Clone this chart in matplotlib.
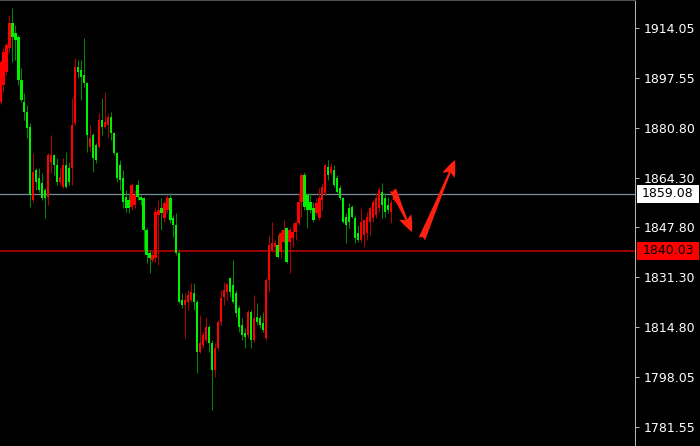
import matplotlib
matplotlib.use("Agg")
import matplotlib.pyplot as plt
from matplotlib.patches import Rectangle
import numpy as np

# ---- data (prices) ----
opens = [
    1889.5, 1895.1, 1899.4, 1907.4, 1915.7, 1912.4, 1911.1, 1896.8, 1889.5, 1886.2,
    1881.2, 1856.9, 1866.9, 1864.2, 1862.6, 1860.3, 1857.9, 1869.6, 1871.9, 1868.6,
    1862.9, 1861.3, 1868.6, 1867.6, 1867.6, 1882.5, 1901.1, 1900.1, 1898.4, 1895.8,
    1874.5, 1878.5, 1875.2, 1874.5, 1883.5, 1881.2, 1881.8, 1884.5, 1879.2, 1872.5,
    1868.6, 1864.2, 1857.9, 1856.9, 1854.6, 1855.3, 1861.9, 1857.9, 1857.6, 1847.0,
    1839.3, 1837.0, 1837.7, 1852.0, 1854.3, 1851.0, 1853.6, 1857.6, 1851.0, 1848.6,
    1839.3, 1823.7, 1822.1, 1823.1, 1823.7, 1826.0, 1823.1, 1806.5, 1808.8, 1810.4,
    1814.8, 1809.4, 1800.5, 1807.8, 1816.4, 1824.7, 1826.4, 1831.0, 1828.7, 1826.0,
    1821.1, 1815.4, 1812.8, 1812.1, 1819.7, 1810.4, 1818.1, 1817.7, 1816.1, 1811.1,
    1830.4, 1840.3, 1841.3, 1842.0, 1839.7, 1843.0, 1847.6, 1843.0, 1844.3, 1846.3,
    1849.3, 1856.3, 1865.2, 1858.6, 1856.3, 1854.3, 1852.6, 1851.0, 1856.9, 1859.3,
    1867.9, 1865.9, 1866.9, 1864.2, 1860.9, 1857.6, 1851.3, 1854.3, 1854.6, 1851.0,
    1846.0, 1843.7, 1845.3, 1846.0, 1849.6, 1851.0, 1852.0, 1854.3, 1859.6, 1857.6,
    1855.3, 1852.9, 1856.9,
]
highs = [
    1903.4, 1907.4, 1909.1, 1918.4, 1920.7, 1915.1, 1911.7, 1900.8, 1892.5, 1888.5,
    1882.5, 1872.5, 1867.6, 1867.6, 1865.9, 1860.9, 1872.5, 1878.5, 1872.2, 1870.9,
    1867.6, 1870.9, 1872.9, 1869.6, 1890.8, 1904.1, 1903.4, 1903.4, 1910.7, 1896.1,
    1881.8, 1879.2, 1875.9, 1885.8, 1890.8, 1892.8, 1885.8, 1886.2, 1879.5, 1872.9,
    1870.2, 1866.9, 1860.3, 1858.6, 1862.6, 1860.3, 1863.6, 1858.6, 1857.9, 1847.6,
    1840.3, 1840.3, 1854.6, 1856.9, 1857.6, 1856.9, 1858.6, 1859.3, 1852.0, 1852.6,
    1840.3, 1826.0, 1826.0, 1827.0, 1829.4, 1829.4, 1823.7, 1818.7, 1813.1, 1818.1,
    1815.4, 1810.4, 1809.4, 1817.1, 1827.0, 1829.7, 1829.4, 1831.4, 1837.0, 1827.0,
    1822.1, 1817.7, 1814.4, 1820.4, 1820.4, 1825.4, 1822.7, 1818.7, 1819.7, 1831.0,
    1845.3, 1849.6, 1843.7, 1845.3, 1847.0, 1850.3, 1848.0, 1848.0, 1849.3, 1849.6,
    1859.3, 1865.9, 1866.2, 1859.3, 1859.3, 1856.3, 1857.6, 1860.9, 1862.6, 1868.9,
    1870.2, 1869.2, 1868.6, 1865.2, 1861.9, 1857.9, 1852.6, 1855.9, 1855.3, 1852.0,
    1848.6, 1854.3, 1850.5, 1852.9, 1854.6, 1856.9, 1859.3, 1861.3, 1862.6, 1859.3,
    1857.9, 1856.9, 1860.9,
]
lows = [
    1888.8, 1892.8, 1898.4, 1905.8, 1902.8, 1903.4, 1895.1, 1889.5, 1883.5, 1877.5,
    1854.6, 1856.3, 1860.3, 1859.6, 1856.9, 1851.0, 1855.3, 1865.9, 1865.2, 1861.9,
    1861.9, 1860.9, 1860.9, 1861.9, 1861.9, 1881.8, 1897.5, 1890.1, 1894.5, 1872.9,
    1872.9, 1866.2, 1869.2, 1874.2, 1878.5, 1880.8, 1877.5, 1876.9, 1871.9, 1862.9,
    1860.3, 1854.3, 1852.9, 1852.6, 1853.6, 1854.3, 1856.9, 1855.3, 1840.3, 1836.0,
    1832.7, 1836.3, 1836.3, 1835.3, 1847.0, 1849.6, 1852.6, 1849.3, 1844.6, 1838.7,
    1822.7, 1821.1, 1811.1, 1820.4, 1823.1, 1820.4, 1799.5, 1806.1, 1807.8, 1809.8,
    1806.5, 1787.2, 1798.2, 1807.1, 1815.4, 1822.1, 1823.7, 1824.7, 1822.7, 1818.1,
    1813.1, 1810.4, 1807.8, 1811.1, 1807.8, 1809.8, 1815.4, 1814.4, 1813.1, 1810.4,
    1826.4, 1839.7, 1838.7, 1837.7, 1837.7, 1842.7, 1836.0, 1832.7, 1841.3, 1843.7,
    1848.6, 1851.3, 1853.6, 1847.6, 1852.6, 1849.6, 1852.0, 1850.3, 1853.6, 1858.6,
    1863.6, 1865.2, 1861.3, 1859.3, 1856.9, 1849.3, 1842.7, 1847.6, 1851.0, 1842.7,
    1843.0, 1843.0, 1841.3, 1843.7, 1845.3, 1849.6, 1851.0, 1852.9, 1851.0, 1851.3,
    1852.6, 1849.3, 1856.3,
]
closes = [
    1902.8, 1906.1, 1908.4, 1915.7, 1911.1, 1910.1, 1896.8, 1890.1, 1886.2, 1880.8,
    1858.6, 1866.2, 1862.9, 1860.3, 1857.6, 1857.6, 1871.9, 1871.9, 1868.6, 1862.9,
    1864.6, 1868.6, 1861.3, 1862.9, 1881.8, 1901.1, 1899.4, 1897.8, 1895.8, 1878.5,
    1877.5, 1870.9, 1870.2, 1883.5, 1881.2, 1882.8, 1884.5, 1879.2, 1872.5, 1864.2,
    1863.6, 1856.3, 1854.3, 1854.3, 1861.9, 1858.6, 1857.9, 1856.9, 1847.0, 1838.7,
    1837.7, 1838.7, 1852.9, 1853.6, 1852.6, 1855.9, 1857.6, 1850.3, 1848.6, 1839.3,
    1823.1, 1822.1, 1823.7, 1825.4, 1826.4, 1823.1, 1806.5, 1809.4, 1812.1, 1814.8,
    1809.4, 1800.5, 1807.8, 1816.4, 1824.4, 1827.0, 1829.0, 1826.4, 1823.1, 1819.4,
    1814.8, 1812.1, 1811.4, 1819.7, 1810.4, 1817.7, 1816.4, 1815.4, 1813.8, 1830.4,
    1842.0, 1842.7, 1842.7, 1838.0, 1846.0, 1847.0, 1836.3, 1847.0, 1846.3, 1849.3,
    1856.3, 1865.2, 1854.6, 1853.6, 1853.6, 1850.3, 1855.9, 1857.6, 1861.3, 1868.6,
    1865.2, 1867.9, 1861.9, 1859.6, 1857.6, 1849.6, 1848.6, 1849.6, 1851.3, 1844.3,
    1843.7, 1849.6, 1850.3, 1851.3, 1854.3, 1856.3, 1857.6, 1860.3, 1855.3, 1852.9,
    1853.6, 1855.9, 1860.3,
]
tick_values = [1914.05, 1897.55, 1880.80, 1864.30, 1847.80, 1831.30, 1814.80, 1798.05, 1781.55]
bid_price = 1859.08
level_price = 1840.03
# annotation arrows: (tail, tip) in (bar index, price)
arrow_down = ((131.7, 1860.3), (138.1, 1846.3))
arrow_up = ((141.4, 1844.0), (152.5, 1870.2))

# ---- figure ----
W, H = 700, 446
PLOT_W = 635
fig = plt.figure(figsize=(W / 100, H / 100), dpi=100, facecolor="black")
ax = fig.add_axes([0, 0, PLOT_W / W, 1])
ax.set_facecolor("black")

n = len(opens)
x = np.arange(n)
o = np.array(opens); c = np.array(closes); hi = np.array(highs); lo = np.array(lows)
up = c >= o

step = 2.98  # px per bar
x0 = -0.5 / step
ax.set_xlim(x0, x0 + PLOT_W / step)
ax.set_ylim(1775.23, 1923.35)

px = 72 / 100  # one pixel in points
# wicks
ax.vlines(x[up], lo[up], hi[up], color="#B00000", linewidth=px, zorder=2)
ax.vlines(x[~up], lo[~up], hi[~up], color="#008A00", linewidth=px, zorder=2)
# bodies
bw = 2.3 / step
bot = np.minimum(o, c)
hgt = np.maximum(np.abs(c - o), 0.35)
ax.bar(x[up], hgt[up], bottom=bot[up], width=bw, color="#FF0000", linewidth=0, zorder=3)
ax.bar(x[~up], hgt[~up], bottom=bot[~up], width=bw, color="#00F000", linewidth=0, zorder=3)

# horizontal price lines
ax.axhline(bid_price, color="#778899", linewidth=1.3 * px, zorder=1)
ax.axhline(level_price, color="#990000", linewidth=2 * px, zorder=1)

# arrows
for (tail, tip) in (arrow_down, arrow_up):
    ax.annotate("", xy=tip, xytext=tail,
                arrowprops=dict(arrowstyle="fancy,head_length=1.2,head_width=0.95,tail_width=0.5",
                                color="#FF2010", linewidth=0, shrinkA=0, shrinkB=0,
                                mutation_scale=10),
                zorder=5)

# axes styling
for s in ("left", "bottom"):
    ax.spines[s].set_visible(False)
ax.spines["right"].set_color("#B4B4B4")
ax.spines["right"].set_linewidth(px)
ax.spines["top"].set_color("#505050")
ax.spines["top"].set_linewidth(2 * px)
ax.set_xticks([])
ax.yaxis.tick_right()
ax.set_yticks(tick_values)
ax.set_yticklabels([f"{v:.2f}" for v in tick_values])
ax.tick_params(axis="y", direction="out", length=3, width=px, pad=3.6,
               color="#B4B4B4", labelcolor="white", labelsize=9)
for t in ax.get_yticklabels():
    t.set_family("DejaVu Sans")

# price tags on the scale
fig.canvas.draw()
def tag(price, face, txtcolor):
    yd = ax.transData.transform((0, price))[1]
    h = 18
    rect = Rectangle((637 / W, (yd - h / 2) / H), 62 / W, h / H,
                     transform=fig.transFigure, facecolor=face, edgecolor="none", zorder=10)
    fig.add_artist(rect)
    fig.text(668 / W, yd / H, f"{price:.2f}", color=txtcolor, fontsize=9,
             ha="center", va="center", family="DejaVu Sans", zorder=11)

tag(bid_price, "white", "black")
tag(level_price, "#FF0000", "black")

fig.savefig("out.png", dpi=100, facecolor="black")
